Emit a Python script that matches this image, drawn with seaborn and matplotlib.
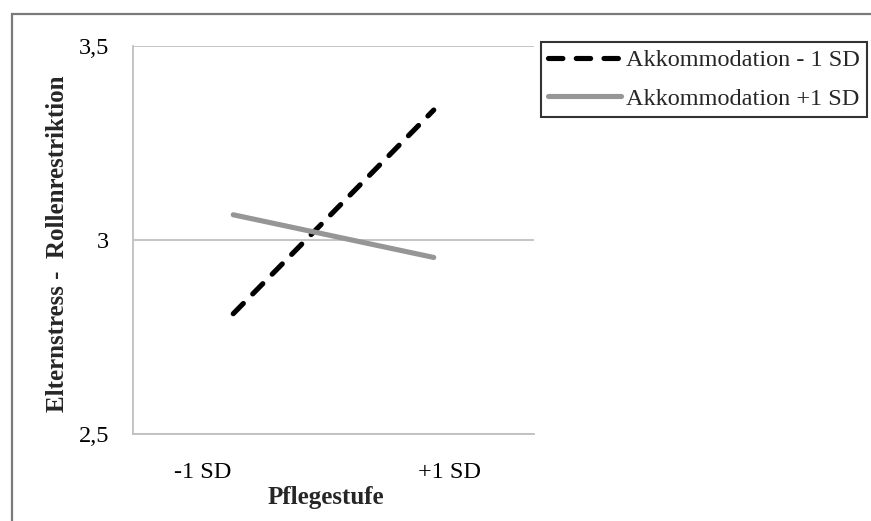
import matplotlib
matplotlib.use("Agg")
import matplotlib.pyplot as plt
import matplotlib.transforms as mtransforms
from matplotlib.patches import Rectangle
from matplotlib.lines import Line2D
import seaborn as sns
import pandas as pd

# Simple-slopes data: parenting stress (role restriction) by care level
categories = ["-1 SD", "+1 SD"]
series_names = ["Akkommodation - 1 SD", "Akkommodation +1 SD"]
low_accommodation = [2.81, 3.335]
high_accommodation = [3.065, 2.955]
y_ticks = [2.5, 3.0, 3.5]
y_tick_labels = ["2,5", "3", "3,5"]

df = pd.DataFrame({
    "Pflegestufe": categories * 2,
    "Wert": low_accommodation + high_accommodation,
    "Gruppe": [series_names[0]] * 2 + [series_names[1]] * 2,
})

sns.set_theme(style="white")
plt.rcParams["font.family"] = ["Liberation Serif", "DejaVu Serif"]

FS = 17.5
fig = plt.figure(figsize=(8.71, 5.21), dpi=100)
ax = fig.add_axes([133 / 871, 1 - 434 / 521, 401 / 871, 388 / 521])

styles = {
    series_names[0]: dict(color="black", dashes=(2.8, 2.6)),
    series_names[1]: dict(color="#969696", dashes=None),
}
for name in series_names:
    sub = df[df["Gruppe"] == name]
    st = styles[name]
    sns.lineplot(data=sub, x="Pflegestufe", y="Wert", ax=ax, color=st["color"],
                 linewidth=3.7, sort=False, legend=False)
    ln = ax.lines[-1]
    ln.set_solid_capstyle("round")
    ln.set_dash_capstyle("round")
    if st["dashes"] is not None:
        ln.set_dashes(st["dashes"])

ax.set_xlim(-0.5, 1.5)
ax.set_ylim(2.5, 3.5)
ax.set_yticks(y_ticks)
ax.set_yticklabels(y_tick_labels)
ax.set_xticks(range(len(categories)))
ax.set_xticklabels(categories)

# horizontal gridlines in light grey
for y in y_ticks:
    ax.axhline(y, color="#c0c0c0", linewidth=1.3, zorder=0)

for side in ["top", "right"]:
    ax.spines[side].set_visible(False)
for side in ["left", "bottom"]:
    ax.spines[side].set_color("#c0c0c0")
    ax.spines[side].set_linewidth(1.3)

ax.tick_params(axis="both", length=0, labelsize=FS, colors="black")
ax.tick_params(axis="y", pad=17)
ax.tick_params(axis="x", pad=20)

# nudge the category labels sideways
offsets = [-31, 16]
for lab, dx in zip(ax.get_xticklabels(), offsets):
    lab.set_transform(lab.get_transform() +
                      mtransforms.ScaledTranslation(dx / 100, 0, fig.dpi_scale_trans))

ax.set_xlabel("Pflegestufe", fontsize=FS + 0.5, fontweight="bold")
ax.set_ylabel("Elternstress -  Rollenrestriktion", fontsize=FS + 0.5, fontweight="bold")
ax.xaxis.set_label_coords(0.48, -0.135)
ax.yaxis.set_label_coords(-0.16, 0.49)

handles = [
    Line2D([], [], color="black", linewidth=3.7, dashes=(2.8, 2.6),
           dash_capstyle="round"),
    Line2D([], [], color="#969696", linewidth=3.7, solid_capstyle="round"),
]
leg = fig.legend(handles, series_names, loc="upper left",
                 bbox_to_anchor=(541 / 871, 1 - 42 / 521),
                 bbox_transform=fig.transFigure, fontsize=FS,
                 frameon=True, fancybox=False, handlelength=3.0,
                 handletextpad=0.2, labelspacing=0.68, borderpad=0.3,
                 borderaxespad=0.0)
leg.get_frame().set_edgecolor("black")
leg.get_frame().set_linewidth(1.5)

# outer chart frame (only left and top edges fall inside the image)
fig.patches.append(Rectangle((12 / 871, -0.1), 1.2, 1 - 14 / 521 + 0.1,
                             transform=fig.transFigure, fill=False,
                             edgecolor="#7a7a7a", linewidth=1.6, zorder=-1))

fig.savefig("out.png", dpi=100)
